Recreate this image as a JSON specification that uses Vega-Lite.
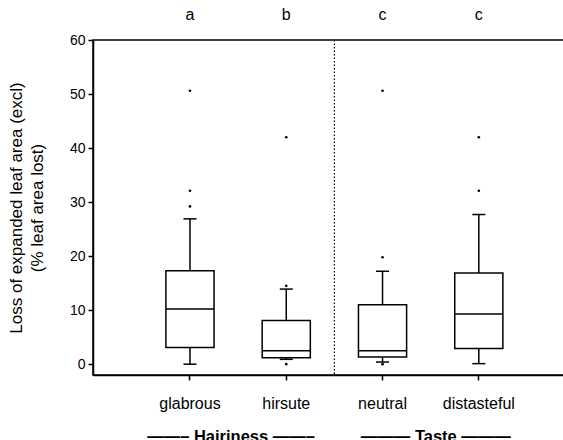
{
  "$schema": "https://vega.github.io/schema/vega-lite/v6.json",
  "width": 471,
  "height": 335,
  "autosize": "none",
  "padding": {"left": 93, "top": 40, "right": 0, "bottom": 65},
  "background": "white",
  "config": {
    "font": "Liberation Sans",
    "view": {"stroke": "black", "strokeWidth": 1.5},
    "axis": {
      "labelFont": "Liberation Sans",
      "titleFont": "Liberation Sans",
      "labelColor": "black",
      "titleColor": "black",
      "tickColor": "black",
      "domainColor": "black",
      "domainWidth": 1.5,
      "tickWidth": 1.5,
      "grid": false
    }
  },
  "datasets": {
    "boxes": [
      {"group": "glabrous", "lo": 0.0, "q1": 3.1, "med": 10.2, "q3": 17.3, "hi": 26.9, "letter": "a"},
      {"group": "hirsute", "lo": 0.9, "q1": 1.2, "med": 2.5, "q3": 8.1, "hi": 13.9, "letter": "b"},
      {"group": "neutral", "lo": 0.4, "q1": 1.35, "med": 2.5, "q3": 11.0, "hi": 17.2, "letter": "c"},
      {"group": "distasteful", "lo": 0.1, "q1": 2.9, "med": 9.3, "q3": 16.9, "hi": 27.7, "letter": "c"}
    ],
    "outliers": [
      {"group": "glabrous", "value": 50.6},
      {"group": "glabrous", "value": 32.1},
      {"group": "glabrous", "value": 29.2},
      {"group": "hirsute", "value": 42.0},
      {"group": "hirsute", "value": 14.5},
      {"group": "hirsute", "value": 0.0},
      {"group": "neutral", "value": 50.6},
      {"group": "neutral", "value": 19.8},
      {"group": "neutral", "value": 0.0},
      {"group": "distasteful", "value": 42.0},
      {"group": "distasteful", "value": 32.1}
    ]
  },
  "encoding": {
    "x": {
      "field": "group",
      "type": "nominal",
      "scale": {
        "domain": ["glabrous", "hirsute", "neutral", "distasteful"],
        "paddingInner": 0.5,
        "paddingOuter": 0.696,
        "align": 0.544
      },
      "axis": {
        "title": "——–\u00a0Hairiness\u00a0——–\u00a0\u00a0\u00a0\u00a0\u00a0\u00a0\u00a0\u00a0\u00a0\u00a0———\u00a0Taste\u00a0———",
        "titleFontSize": 16.5,
        "titleFontWeight": "bold",
        "titlePadding": 17,
        "labelAngle": 0,
        "labelFontSize": 16,
        "labelPadding": 15,
        "tickSize": 5
      }
    }
  },
  "layer": [
    {
      "data": {"name": "boxes"},
      "mark": {"type": "rule", "stroke": "black", "strokeWidth": 1.5},
      "encoding": {
        "y": {
          "field": "lo",
          "type": "quantitative",
          "scale": {"domain": [-2, 60], "nice": false, "zero": false},
          "axis": {
            "title": ["Loss of expanded leaf area (excl)", "(% leaf area lost)"],
            "titleFontSize": 17,
            "titleFontWeight": "normal",
            "titleLineHeight": 21,
            "titlePadding": 23,
            "values": [0, 10, 20, 30, 40, 50, 60],
            "labelFontSize": 14,
            "labelPadding": 3,
            "tickSize": 5
          }
        },
        "y2": {"field": "q1"}
      }
    },
    {
      "data": {"name": "boxes"},
      "mark": {"type": "rule", "stroke": "black", "strokeWidth": 1.5},
      "encoding": {
        "y": {"field": "q3", "type": "quantitative"},
        "y2": {"field": "hi"}
      }
    },
    {
      "data": {"name": "boxes"},
      "mark": {"type": "tick", "color": "black", "opacity": 1, "size": 13, "thickness": 1.5, "orient": "horizontal"},
      "encoding": {"y": {"field": "lo", "type": "quantitative"}}
    },
    {
      "data": {"name": "boxes"},
      "mark": {"type": "tick", "color": "black", "opacity": 1, "size": 13, "thickness": 1.5, "orient": "horizontal"},
      "encoding": {"y": {"field": "hi", "type": "quantitative"}}
    },
    {
      "data": {"name": "boxes"},
      "mark": {"type": "bar", "fill": "white", "stroke": "black", "strokeWidth": 1.5},
      "encoding": {
        "y": {"field": "q1", "type": "quantitative"},
        "y2": {"field": "q3"}
      }
    },
    {
      "data": {"name": "boxes"},
      "mark": {"type": "tick", "color": "black", "opacity": 1, "size": 48, "thickness": 1.5, "orient": "horizontal"},
      "encoding": {"y": {"field": "med", "type": "quantitative"}}
    },
    {
      "data": {"name": "outliers"},
      "mark": {"type": "circle", "color": "black", "size": 7, "opacity": 1},
      "encoding": {"y": {"field": "value", "type": "quantitative"}}
    },
    {
      "data": {"name": "boxes"},
      "mark": {"type": "text", "fontSize": 16, "color": "black", "baseline": "middle"},
      "encoding": {
        "y": {"datum": 64.6, "type": "quantitative"},
        "text": {"field": "letter"}
      }
    },
    {
      "data": {"values": [{}]},
      "mark": {"type": "rule", "stroke": "black", "strokeWidth": 1.2, "strokeDash": [1.5, 2]},
      "encoding": {
        "x": {"datum": "hirsute", "bandPosition": 1.5},
        "y": {"datum": 60, "type": "quantitative"},
        "y2": {"datum": -2}
      }
    }
  ]
}
